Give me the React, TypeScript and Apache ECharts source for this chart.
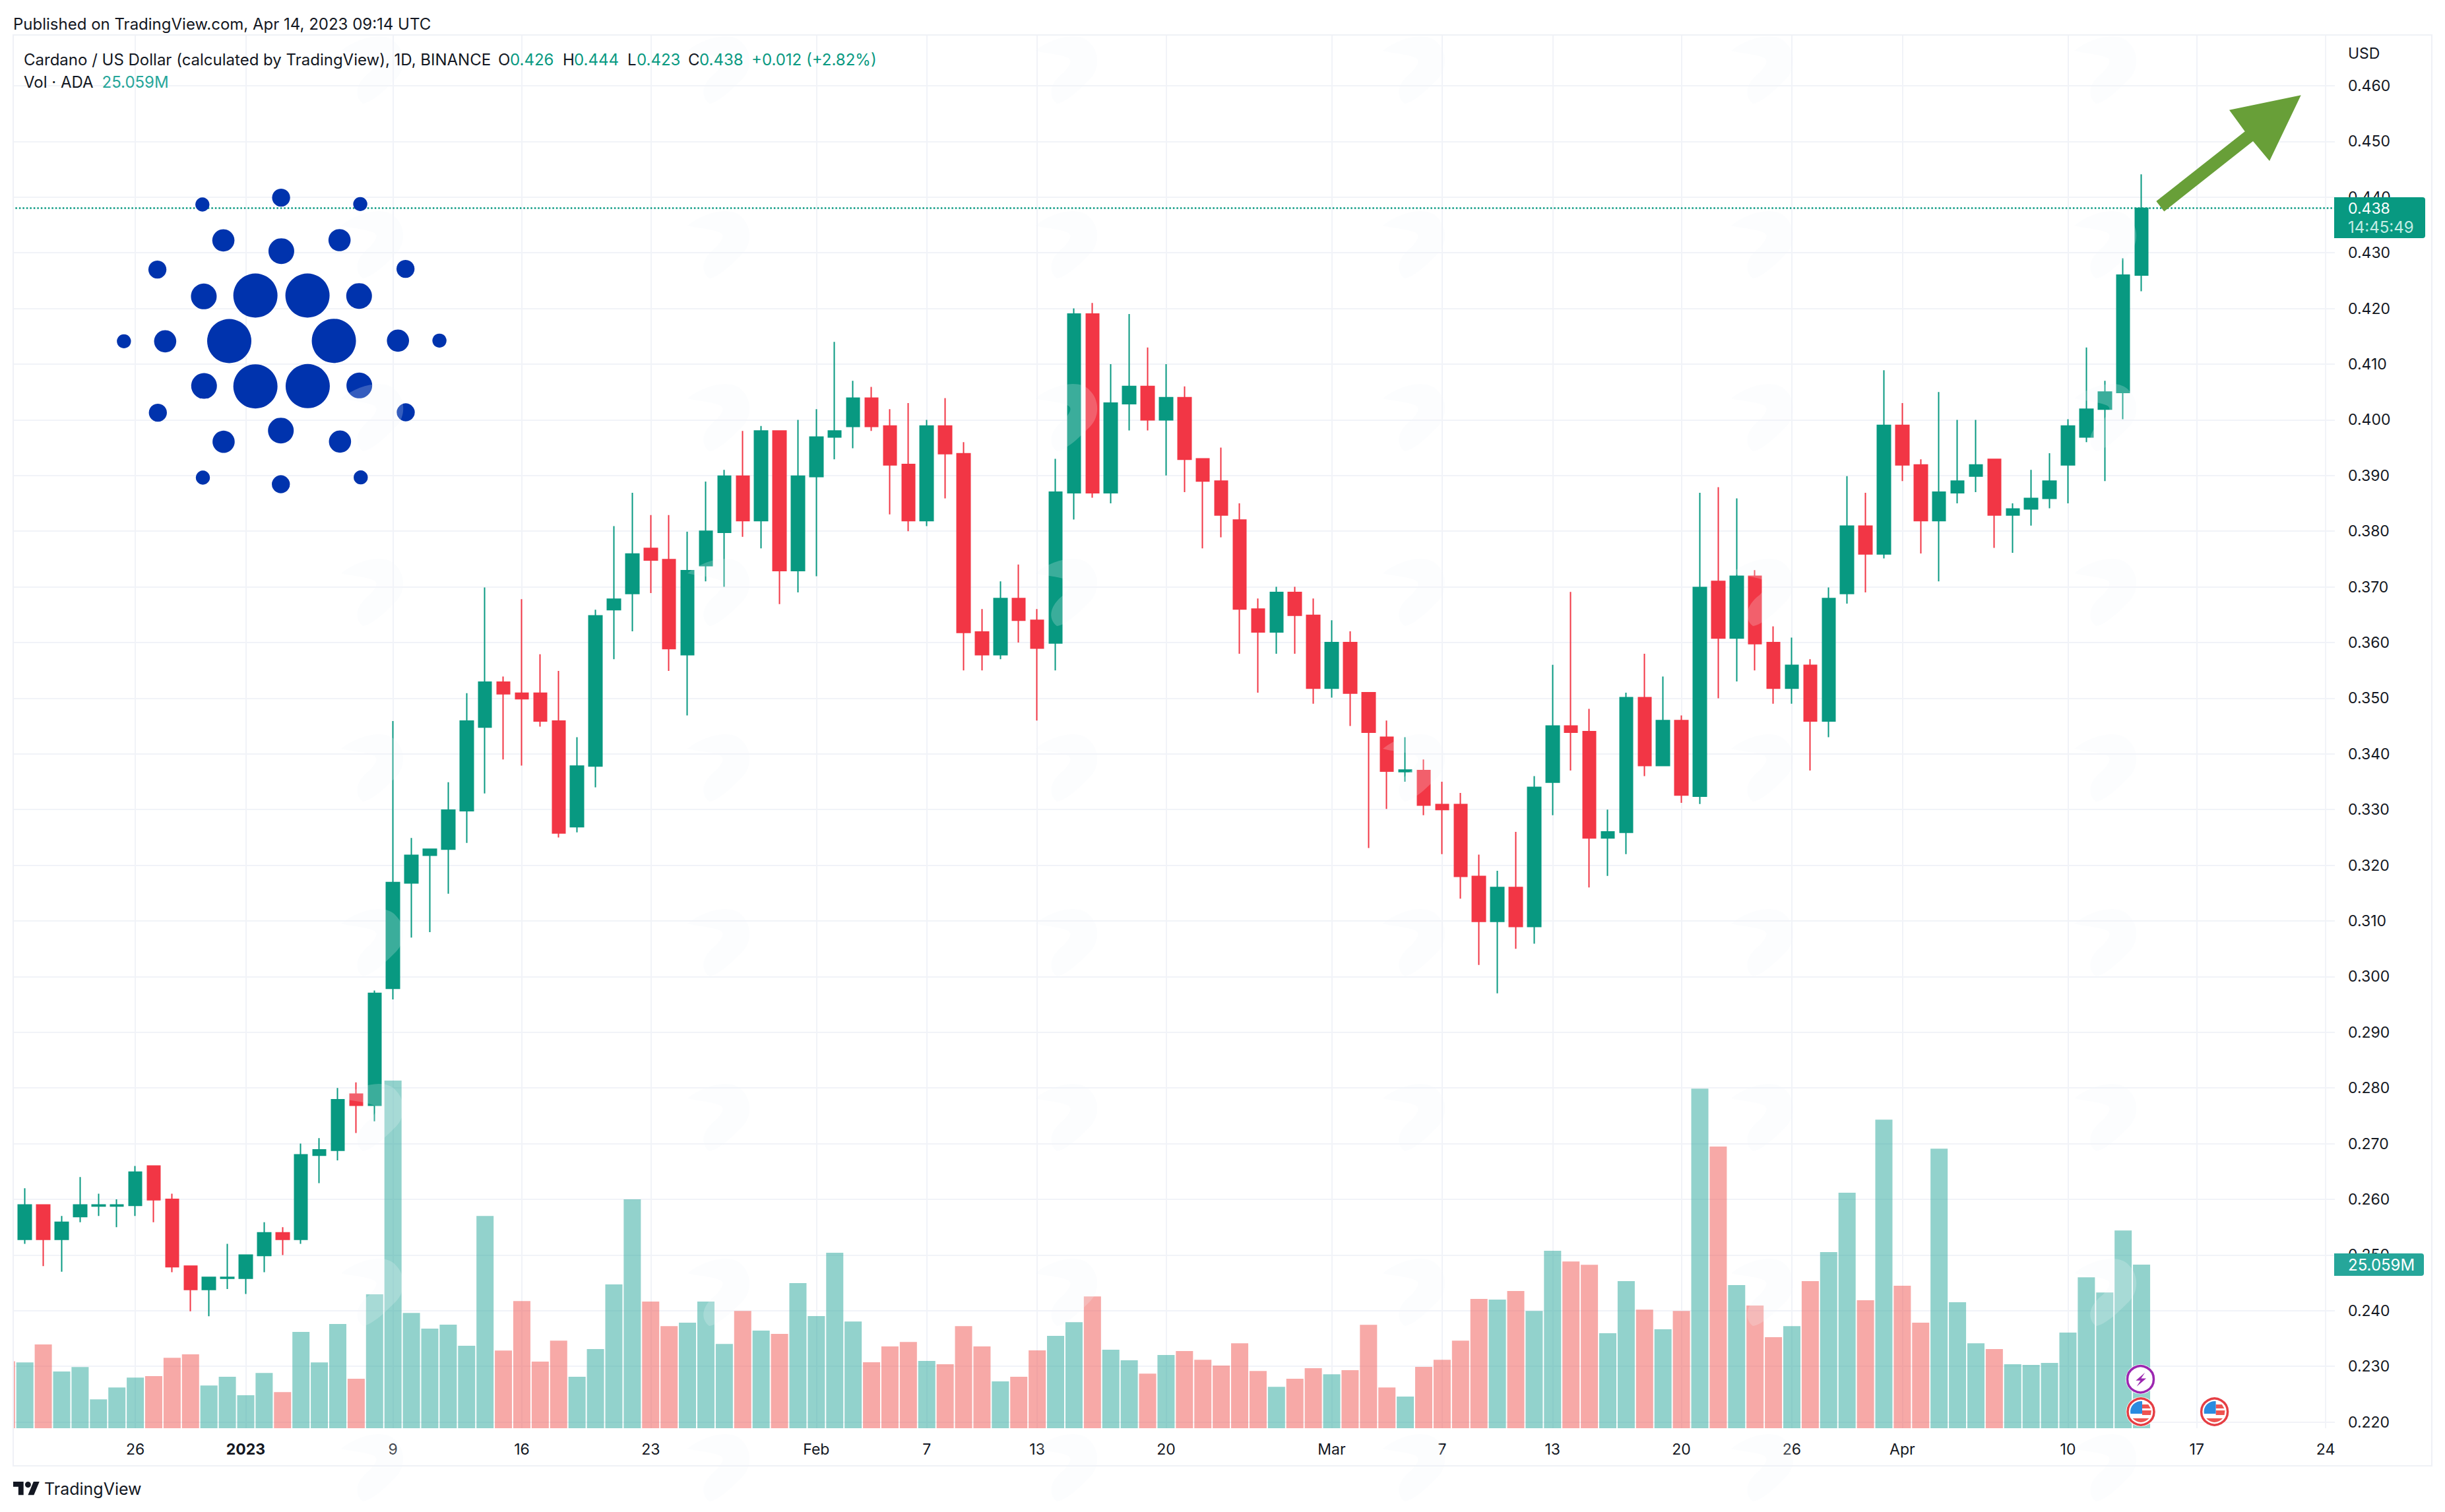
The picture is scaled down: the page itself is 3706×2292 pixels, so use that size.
import React, { useEffect, useRef } from "react";
import * as echarts from "echarts";

// ---------- data ----------
const firstDay = Date.UTC(2022, 11, 19);
const dates: string[] = [];
for (let i = 0; i < 127; i++) dates.push(new Date(firstDay + i * 86400000).toISOString().slice(0, 10));

const dateTicks: Record<string, string> = {
  "2022-12-26": "26", "2023-01-01": "2023", "2023-01-09": "9", "2023-01-16": "16", "2023-01-23": "23",
  "2023-02-01": "Feb", "2023-02-07": "7", "2023-02-13": "13", "2023-02-20": "20",
  "2023-03-01": "Mar", "2023-03-07": "7", "2023-03-13": "13", "2023-03-20": "20", "2023-03-26": "26",
  "2023-04-01": "Apr", "2023-04-10": "10", "2023-04-17": "17", "2023-04-24": "24",
};

const priceTicks = [0.22, 0.23, 0.24, 0.25, 0.26, 0.27, 0.28, 0.29, 0.3, 0.31, 0.32, 0.33, 0.34, 0.35, 0.36, 0.37, 0.38, 0.39, 0.4, 0.41, 0.42, 0.43, 0.44, 0.45, 0.46];

// open, close, low, high. Starts on Dec 20; Dec 19 has only a volume sliver.
const candles: number[][] = [
  [0.2528, 0.259, 0.252, 0.262], [0.259, 0.2528, 0.248, 0.259], [0.2528, 0.2559, 0.247, 0.257], [0.2569, 0.259, 0.2559, 0.264],
  [0.2588, 0.259, 0.257, 0.261], [0.2588, 0.259, 0.255, 0.26], [0.2589, 0.2649, 0.257, 0.266], [0.266, 0.2599, 0.2559, 0.266],
  [0.26, 0.2479, 0.2469, 0.261], [0.248, 0.2438, 0.2399, 0.248], [0.2438, 0.246, 0.239, 0.246], [0.2458, 0.246, 0.2439, 0.252],
  [0.2458, 0.25, 0.243, 0.25], [0.2499, 0.254, 0.2469, 0.2559], [0.254, 0.2528, 0.25, 0.255], [0.2528, 0.268, 0.252, 0.27],
  [0.2679, 0.2689, 0.2629, 0.271], [0.2688, 0.2779, 0.267, 0.28], [0.2789, 0.2769, 0.2719, 0.281], [0.2769, 0.297, 0.274, 0.2975],
  [0.2979, 0.3169, 0.2959, 0.3459], [0.3168, 0.3218, 0.307, 0.3249], [0.3218, 0.3229, 0.308, 0.3229], [0.3229, 0.3299, 0.3149, 0.3349],
  [0.3298, 0.3459, 0.324, 0.3509], [0.3448, 0.3529, 0.3329, 0.3699], [0.3529, 0.3508, 0.339, 0.3539], [0.3509, 0.3499, 0.3379, 0.3678],
  [0.3509, 0.3459, 0.3449, 0.3579], [0.3459, 0.3258, 0.325, 0.3549], [0.3269, 0.3378, 0.3259, 0.343], [0.3378, 0.3648, 0.334, 0.3659],
  [0.3659, 0.3678, 0.357, 0.3809], [0.3688, 0.3759, 0.362, 0.3869], [0.3769, 0.3748, 0.3689, 0.3829], [0.3749, 0.3589, 0.3549, 0.3829],
  [0.3578, 0.3729, 0.3469, 0.3799], [0.3738, 0.38, 0.371, 0.3889], [0.3798, 0.3899, 0.37, 0.391], [0.3899, 0.3819, 0.379, 0.398],
  [0.3819, 0.398, 0.3769, 0.3989], [0.398, 0.3729, 0.3669, 0.398], [0.3729, 0.3899, 0.369, 0.4], [0.3898, 0.3969, 0.3719, 0.4019],
  [0.3969, 0.398, 0.3929, 0.414], [0.3988, 0.4039, 0.3949, 0.407], [0.4039, 0.3988, 0.398, 0.4059], [0.3989, 0.3919, 0.383, 0.4019],
  [0.392, 0.3819, 0.38, 0.403], [0.3819, 0.3989, 0.3809, 0.4], [0.3989, 0.3939, 0.3859, 0.4039], [0.3939, 0.3618, 0.355, 0.396],
  [0.3619, 0.3578, 0.355, 0.366], [0.3578, 0.3679, 0.357, 0.371], [0.3679, 0.364, 0.36, 0.374], [0.364, 0.359, 0.346, 0.366],
  [0.3599, 0.387, 0.355, 0.393], [0.3869, 0.419, 0.3821, 0.42], [0.419, 0.3869, 0.386, 0.421], [0.3869, 0.403, 0.385, 0.41],
  [0.4029, 0.406, 0.3981, 0.419], [0.406, 0.4, 0.3981, 0.413], [0.4, 0.404, 0.39, 0.41], [0.404, 0.3929, 0.387, 0.406],
  [0.393, 0.389, 0.3769, 0.393], [0.389, 0.3829, 0.3789, 0.395], [0.382, 0.366, 0.358, 0.385], [0.366, 0.3619, 0.351, 0.3679],
  [0.3619, 0.369, 0.358, 0.37], [0.369, 0.3649, 0.358, 0.37], [0.3649, 0.3518, 0.349, 0.3679], [0.3518, 0.36, 0.3501, 0.364],
  [0.36, 0.3509, 0.345, 0.362], [0.351, 0.3439, 0.3231, 0.351], [0.343, 0.3369, 0.3301, 0.346], [0.3368, 0.3371, 0.335, 0.343],
  [0.337, 0.3308, 0.329, 0.339], [0.3309, 0.33, 0.322, 0.335], [0.3309, 0.318, 0.314, 0.333], [0.318, 0.3099, 0.3021, 0.3219],
  [0.3099, 0.316, 0.297, 0.319], [0.316, 0.309, 0.305, 0.326], [0.309, 0.334, 0.3059, 0.336], [0.3349, 0.345, 0.329, 0.356],
  [0.345, 0.3439, 0.337, 0.3691], [0.344, 0.3249, 0.316, 0.3481], [0.3249, 0.326, 0.3181, 0.33], [0.3259, 0.3501, 0.322, 0.351],
  [0.3501, 0.3379, 0.336, 0.358], [0.3379, 0.346, 0.3378, 0.3539], [0.346, 0.3326, 0.3312, 0.3469], [0.3324, 0.3699, 0.331, 0.3869],
  [0.371, 0.3608, 0.35, 0.3879], [0.3608, 0.3719, 0.353, 0.3859], [0.3719, 0.3598, 0.355, 0.373], [0.36, 0.3518, 0.349, 0.3629],
  [0.3518, 0.3559, 0.349, 0.3609], [0.3559, 0.3459, 0.337, 0.357], [0.3459, 0.3679, 0.343, 0.3699], [0.3688, 0.3809, 0.367, 0.3899],
  [0.3809, 0.3759, 0.369, 0.3869], [0.3759, 0.399, 0.3751, 0.4089], [0.399, 0.3919, 0.389, 0.403], [0.3919, 0.3819, 0.376, 0.3929],
  [0.3819, 0.387, 0.371, 0.405], [0.3869, 0.389, 0.385, 0.4], [0.3899, 0.3919, 0.387, 0.4], [0.3929, 0.3829, 0.377, 0.3929],
  [0.3829, 0.384, 0.3761, 0.385], [0.384, 0.3859, 0.381, 0.391], [0.3859, 0.389, 0.3841, 0.394], [0.3919, 0.3989, 0.385, 0.4001],
  [0.3969, 0.4019, 0.396, 0.413], [0.4019, 0.405, 0.389, 0.407], [0.4049, 0.426, 0.4001, 0.429], [0.426, 0.438, 0.4231, 0.4441],
];

// millions, Dec 19 onward
const volumes = [
  10.25, 10.08, 12.84, 8.69, 9.36, 4.41, 6.24, 7.76, 7.98, 10.79, 11.32, 6.55, 7.89, 5.04, 8.47, 5.53, 14.76, 10.08, 15.96, 7.58, 20.51,
  53.23, 17.66, 15.25, 15.87, 12.62, 32.5, 11.9, 19.48, 10.21, 13.42, 7.89, 12.13, 22.02, 35.04, 19.39,
  15.64, 16.15, 19.39, 12.91, 17.96, 14.95, 14.44, 22.23, 17.17, 26.87, 16.35, 10.11, 12.53, 13.21, 10.31, 9.8, 15.64, 12.53, 7.17, 7.89,
  11.92, 14.13, 16.25, 20.18, 12.02, 10.41, 8.36, 11.2, 11.81, 10.48, 9.59, 13.01, 8.77, 6.35, 7.58, 9.18, 8.26, 8.88, 15.84, 6.25, 4.85,
  9.39, 10.48, 13.42, 19.8, 19.7, 21.0, 17.96, 27.18, 25.54, 25.03, 14.54, 22.53, 18.16, 15.16, 17.96, 52.0, 43.12, 21.92, 18.78, 13.93,
  15.64, 22.53, 26.97, 36.05, 19.6, 47.25, 21.82, 16.15, 42.81, 19.29, 13.01, 12.12, 9.8, 9.7, 10.0, 14.65, 23.11, 20.79, 30.28, 25.059,
];

const lastPrice = 0.438;

// ---------- looks ----------
const UP = "#089981";
const DOWN = "#f23645";
const VOL_UP = "rgba(38,166,154,0.5)";
const VOL_DOWN = "rgba(239,83,80,0.5)";
const VOL_TAG = "#26a69a";
const GRID = "#f1f3f8";
const INK = "#131722";
const FONT = "Inter";
const SIZE = 23;
const LOGO = "#0033ad";

echarts.graphic.registerShape("tvGhost", echarts.graphic.extendPath(
  "M-48,-28 C-20,-50 20,-58 35,-40 C50,-25 50,0 35,15 C20,30 0,50 -15,52 C-30,40 -25,20 -5,5 C5,-5 10,-15 0,-18 C-15,-24 -35,-24 -48,-28 Z", {}));
echarts.graphic.registerShape("tvLogo", echarts.graphic.extendPath(
  "M14 22H7V11H0V4h14v18zM28 22h-8l7.5-18h8L28 22zM24 8a4 4 0 1 1-8 0a4 4 0 1 1 8 0z", {}));
echarts.graphic.registerShape("usCanton", echarts.graphic.extendPath("M2,3 L-15.7,3 A16,16 0 0 1 2,-15.9 Z", {}));
echarts.graphic.registerShape("usStripes", echarts.graphic.extendPath(
  "M2,-11 L11.3,-11 L14.8,-5 L2,-5 Z M2,-2 L15.9,-2 L15,5 L2,5 Z M-12.4,10 L12.4,10 A16,16 0 0 1 -12.4,10 Z", {}));

function text(t: string, x: number, y: number, fill: string, extra: any = {}) {
  return {
    type: "text", z: 20, x, y,
    style: { text: t, fill, fontFamily: FONT, fontSize: 24, verticalAlign: "middle", align: "left", ...extra },
  };
}

function ghosts() {
  const out: any[] = [];
  for (const cx of [565, 1090, 1617, 2144, 2672, 3192]) {
    for (const cy of [105, 370, 632, 897, 1163, 1428, 1693, 1958, 2224]) {
      out.push({ type: "tvGhost", z: 15, x: cx, y: cy, style: { fill: "rgba(240,244,252,0.22)" } });
    }
  }
  return out;
}

function cardano() {
  const c: number[][] = [
    [439, 120, 10.7], [1109, 118, 10.7], [106, 742, 10.7], [1445, 739, 10.7], [441, 1362, 10.7], [1111, 1361, 10.7],
    [773, 89, 13.7], [772, 1392, 13.7], [248, 416, 13.7], [1301, 413, 13.7], [250, 1067, 13.7], [1302, 1065, 13.7],
    [528, 283, 16.8], [1021, 282, 16.8], [281, 742, 16.8], [1269, 739, 16.8], [529, 1199, 16.8], [1023, 1198, 16.8],
    [774, 332, 19.5], [772, 1148, 19.5], [445, 538, 19.5], [1104, 536, 19.5], [446, 945, 19.5], [1105, 943, 19.5],
    [664, 534, 33.5], [885, 534, 33.5], [553, 741, 33.5], [997, 740, 33.5], [664, 947, 33.5], [886, 946, 33.5],
  ];
  return c.map(([d, e, r]) => ({
    type: "circle", z: 12, shape: { cx: 150 + d / 2.8, cy: 270 + e / 3, r }, style: { fill: LOGO },
  }));
}

function usFlag(x: number, y: number) {
  return [
    { type: "circle", z: 13, shape: { cx: x, cy: y, r: 22.5 }, style: { fill: "#fff" } },
    { type: "circle", z: 13, shape: { cx: x, cy: y, r: 20 }, style: { fill: "#fff", stroke: "#e53e44", lineWidth: 3.5 } },
    { type: "usStripes", z: 14, x, y, style: { fill: "#ef5350" } },
    { type: "usCanton", z: 14, x, y, style: { fill: "#2a8be0" } },
    ...[-10, -5, 0].flatMap((dy) => [-12, -7, -2].map((dx) => ({
      type: "circle", z: 14, shape: { cx: x + dx + 1, cy: y + dy, r: 1.1 }, style: { fill: "#fff" },
    }))),
  ];
}

function graphics() {
  const H = 90;
  const green = UP;
  return [
    { type: "rect", z: 9, shape: { x: 0, y: 0, width: 19, height: 2292 }, style: { fill: "#fff" } },
    { type: "rect", z: 9, shape: { x: 20, y: 53, width: 3666, height: 2169 }, style: { fill: "none", stroke: "#eff1f6", lineWidth: 2 } },
    ...cardano(),
    { type: "polygon", z: 13, shape: { points: [[3268.3, 305], [3402.7, 199.3], [3379, 166.7], [3487.7, 144.3], [3440, 244], [3415, 214], [3280.3, 320.4]] }, style: { fill: "#689f38" } },
    // event marks
    { type: "circle", z: 13, shape: { cx: 3244.5, cy: 2090.7, r: 22.5 }, style: { fill: "#fff" } },
    { type: "circle", z: 13, shape: { cx: 3244.5, cy: 2090.7, r: 20 }, style: { fill: "#fff", stroke: "#9c27b0", lineWidth: 3.5 } },
    { type: "polygon", z: 14, x: 3244.5, y: 2090.7, shape: { points: [[6.7, -10], [-7.2, 2], [0, 2], [-5.8, 11], [8.6, -1.3], [0.9, -1.3]] }, style: { fill: "#9c27b0" } },
    ...usFlag(3245, 2140),
    ...usFlag(3356.6, 2140),
    ...ghosts(),
    // header
    text("Published on TradingView.com, Apr 14, 2023 09:14 UTC", 20, 36, INK),
    text("Cardano / US Dollar (calculated by TradingView), 1D, BINANCE", 36, H, INK),
    text("O", 755, H, INK), text("0.426", 773, H, green),
    text("H", 853, H, INK), text("0.444", 870, H, green),
    text("L", 951, H, INK), text("0.423", 965, H, green),
    text("C", 1043, H, INK), text("0.438", 1060, H, green),
    text("+0.012 (+2.82%)", 1139, H, green),
    text("Vol · ADA", 36, 124, INK), text("25.059M", 154.5, 124, VOL_TAG),
    // price side
    text("USD", 3559, 81, INK, { fontSize: SIZE }),
    { type: "rect", z: 19, shape: { x: 3538, y: 299, width: 138, height: 62, r: [0, 4, 4, 0] }, style: { fill: UP } },
    text("0.438", 3559, 316, "#ffffff", { fontSize: SIZE }),
    text("14:45:49", 3559, 344, "#c4ece4", { fontSize: 24 }),
    { type: "rect", z: 19, shape: { x: 3538, y: 1900, width: 136, height: 34, r: [0, 4, 4, 0] }, style: { fill: VOL_TAG } },
    text("25.059M", 3559, 1917, "#ffffff", { fontSize: 24 }),
    // footer
    { type: "tvLogo", z: 20, x: 20, y: 2241.5, scaleX: 1.12, scaleY: 1.12, style: { fill: INK } },
    text("TradingView", 67, 2257, INK, { fontSize: 25 }),
  ];
}

function makeOption(): any {
  const left = -4.15;
  const width = 3543.15;
  const tickAt = (_: number, v: string) => v in dateTicks;
  const priceData: any[] = ["-", ...candles];
  const volData = volumes.map((v, i) => {
    const c = priceData[i];
    const up = c !== "-" && c[1] >= c[0];
    return { value: v, itemStyle: { color: up ? VOL_UP : VOL_DOWN } };
  });
  return {
    animation: false,
    backgroundColor: "#ffffff",
    grid: [
      { left, width, top: 53, height: 2112, outerBoundsMode: "none", containLabel: false },
      { left, width, top: 1000, height: 1165, outerBoundsMode: "none", containLabel: false },
    ],
    xAxis: [
      {
        type: "category", gridIndex: 0, data: dates, boundaryGap: true,
        axisLine: { show: false }, axisTick: { show: false }, axisLabel: { show: false },
        splitLine: { show: true, interval: tickAt, alignWithLabel: true, lineStyle: { color: GRID, width: 2 } },
      },
      {
        type: "category", gridIndex: 1, data: dates, boundaryGap: true,
        axisLine: { show: false }, axisTick: { show: false }, splitLine: { show: false },
        axisLabel: {
          interval: tickAt, margin: 20, fontFamily: FONT, fontSize: SIZE, color: INK, hideOverlap: false,
          formatter: (v: string) => (dateTicks[v] === "2023" ? "{b|2023}" : dateTicks[v] || ""),
          rich: { b: { fontFamily: FONT, fontSize: SIZE, fontWeight: 700, color: INK } },
        },
      },
    ],
    yAxis: [
      {
        type: "value", gridIndex: 0, position: "right", scale: true,
        min: 0.21889, max: 0.46912,
        axisLine: { show: false },
        axisTick: { show: false, customValues: priceTicks },
        axisLabel: {
          customValues: priceTicks, margin: 20, fontFamily: FONT, fontSize: SIZE, color: INK,
          formatter: (v: number) => v.toFixed(3),
        },
        splitLine: { show: true, lineStyle: { color: GRID, width: 2 } },
      },
      { type: "value", gridIndex: 1, min: 0, max: 117.68, show: false, splitLine: { show: false } },
    ],
    series: [
      {
        type: "candlestick", name: "ADA", xAxisIndex: 0, yAxisIndex: 0, data: priceData, barWidth: 20,
        itemStyle: { color: UP, color0: DOWN, borderColor: UP, borderColor0: DOWN, borderWidth: 2 },
        markLine: {
          silent: true, symbol: "none", label: { show: false }, animation: false, precision: 3,
          lineStyle: { color: UP, width: 2.5, type: [2.5, 3] },
          data: [{ yAxis: lastPrice }],
        },
      },
      { type: "bar", name: "Vol", xAxisIndex: 1, yAxisIndex: 1, data: volData, barWidth: 26 },
    ],
    graphic: graphics(),
  };
}

export default function App() {
  const ref = useRef<HTMLDivElement>(null);
  useEffect(() => {
    document.body.style.margin = "0";
    const chart = echarts.init(ref.current!, undefined, { renderer: "svg" });
    chart.setOption(makeOption());
    return () => chart.dispose();
  }, []);
  return <div ref={ref} style={{ position: "fixed", left: 0, top: 0, width: 3706, height: 2292 }} />;
}
